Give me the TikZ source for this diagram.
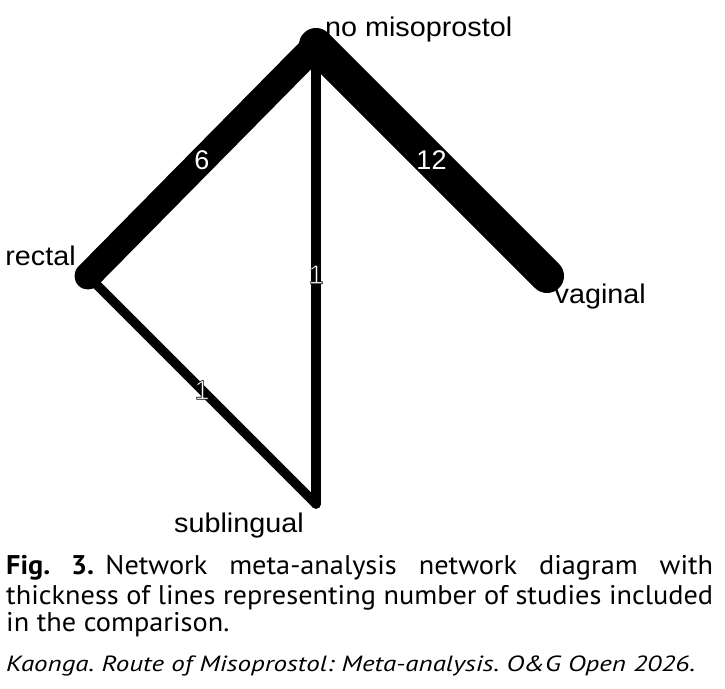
\documentclass[tikz,border=0pt]{standalone}
\usepackage{fontspec}
\usepackage{graphicx}
\setmainfont{Liberation Sans}
\newfontfamily\labfont{Liberation Sans}
\newfontfamily\capfont{PT Sans}
\newlength\capw
\newcommand\wlab[1]{\scalebox{1.065}[1]{#1}}
\newcommand\edgehalo[1]{{\color{white}\special{pdf:literal direct 0 G 0.6 w 2 Tr}#1\special{pdf:literal direct 0 Tr}}}
\newcommand\capsize{\fontsize{27}{30}\selectfont}
\frenchspacing
\tikzset{
  edge/.style={draw=black, line cap=round},
  vlabel/.style={anchor=base west, inner sep=0pt, font=\labfont\fontsize{27}{30}\selectfont},
  elab/.style={inner sep=0pt, text=white, font=\labfont\fontsize{27}{30}\selectfont},
  capline/.style={anchor=base west, inner sep=0pt}
}
\begin{document}
\settowidth\capw{\capfont\capsize thickness of lines representing number of studies included}%
\pgfmathsetmacro\capsx{707/\capw}%
\begin{tikzpicture}[x=1pt,y=1pt]
\fill[white] (0,0) rectangle (725,688);
\useasboundingbox (0,0) rectangle (725,688);
% vertices
\coordinate (N) at (316,643);
\coordinate (R) at (88,412);
\coordinate (V) at (547,412);
\coordinate (S) at (316,184);
% edges
\draw[edge, line width=9.5] (N) -- (S);
\draw[edge, line width=9.5] (R) -- (S);
\draw[edge, line width=27] (R) -- (N);
\draw[edge, line width=34] (N) -- (V);
% edge labels
\path (R) -- (N) node[midway, elab] (e6) {6};
\path (N) -- (V) node[midway, elab] (e12) {12};
\path (N) -- (S) node[midway, elab] (e1a) {\edgehalo{1}};
\path (R) -- (S) node[midway, elab] (e1b) {\edgehalo{1}};
% vertex labels
\node[vlabel] (lN) at (325,651.3) {\wlab{no misoprostol}};
\node[vlabel] (lR) at (5.2,422.3) {\wlab{rectal}};
\node[vlabel] (lV) at (554.5,384) {\wlab{vaginal}};
\node[vlabel] (lS) at (174,155.3) {\wlab{sublingual}};
% caption
\node[capline] (c1) at (6,113.3) {\scalebox{\capsx}[1]{\makebox[\capw][s]{\capfont\capsize\textbf{Fig. 3.}\kern0.4em Network meta-analysis network diagram with}}};
\node[capline] (c2) at (6,84) {\scalebox{\capsx}[1]{\capfont\capsize thickness of lines representing number of studies included}};
\node[capline] (c3) at (6,56.7) {\scalebox{\capsx}[1]{\capfont\capsize in the comparison.}};
\node[capline] (c4) at (6,16.3) {\resizebox{689pt}{\height}{\capfont\itshape\fontsize{22}{26}\selectfont Kaonga. Route of Misoprostol: Meta-analysis. O\&G Open 2026.}};
\end{tikzpicture}
\end{document}
